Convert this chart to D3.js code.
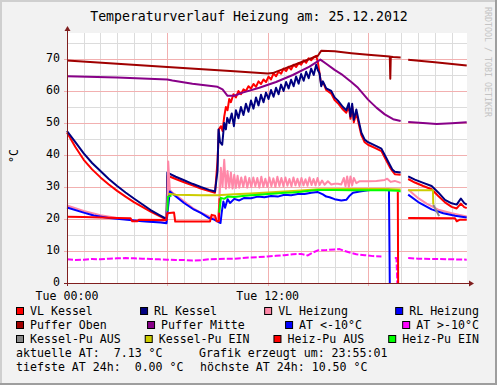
<!DOCTYPE html>
<html>
<head>
<meta charset="utf-8">
<script src="https://cdn.jsdelivr.net/npm/d3@7"></script>
<style>
  body { margin: 0; background: #fff; }
  text { font-family: "DejaVu Sans Mono", monospace; }
</style>
</head>
<body>
<script>
// hours since 00:00, value in °C  (null = gap in the data)
const vlKessel = [[0,47],[0.5,42.5],[1,38.5],[1.5,35.5],[2,33],[2.5,30.8],[3,28.8],[3.5,27],[4,25.3],[4.5,23.8],[5,22.3],[5.5,21],[5.95,19.8],[6.02,33.5],[6.5,32.5],[7,31.5],[7.5,30.5],[8,29.5],[8.5,28.7],[8.85,28.2],[9.0,38],[9.08,48],[9.2,49],[9.3,47.5],[9.4,52],[9.5,55],[9.6,54],[9.7,57.5],[9.8,56.5],[9.95,59],[10.1,58],[10.25,60],[10.4,59],[10.55,60.5],[10.7,60],[10.85,61.5],[11.0,60.8],[11.15,62.2],[11.3,61.3],[11.45,63],[11.6,62.2],[11.75,63.6],[11.9,62.8],[12.05,64.5],[12.2,63.6],[12.35,65.5],[12.5,64.6],[12.65,66],[12.8,65.4],[12.95,67],[13.1,66.2],[13.25,67.6],[13.4,66.7],[13.55,68.2],[13.7,67.5],[13.85,68.7],[14.0,68.2],[14.15,69.5],[14.3,68.8],[14.45,70.2],[14.6,69.6],[14.75,70.6],[14.9,71],[15.0,69],[15.1,65.5],[15.2,62],[15.35,62.3],[15.5,60.3],[15.8,59.2],[16.0,57.2],[16.2,56.2],[16.5,54.2],[16.7,53.2],[16.85,55.2],[16.95,51.3],[17.05,55.3],[17.15,50.2],[17.3,53.2],[17.45,49.6],[17.6,46.2],[17.8,44],[18,43.2],[18.5,42],[18.8,41.2],[19.1,38.2],[19.3,36.2],[19.45,35],[19.6,34],[19.95,33.8],null,[20.4,32.5],[20.8,31.4],[21.3,30.3],[21.8,29.3],[22.2,27.2],[22.6,25.2],[23.0,23.8],[23.3,23.3],[23.55,24.8],[23.75,23.7],[23.9,23.4]];

const rlKessel = [[0,47.5],[0.5,44],[1,40.5],[1.5,37.5],[2,35],[2.5,32.5],[3,30.3],[3.5,28.3],[4,26.4],[4.5,24.6],[5,22.8],[5.5,21.3],[5.95,20],[6.0,34.5],[6.5,33.2],[7,32.1],[7.5,31],[8,30],[8.5,29.1],[8.85,28.6],[9.0,35],[9.06,48],[9.15,44],[9.28,43.2],[9.4,50],[9.5,48],[9.58,51.6],[9.7,50],[9.85,53],[9.98,49],[10.1,54],[10.25,51.5],[10.4,55],[10.55,52.5],[10.7,56],[10.85,53.5],[11.0,57],[11.15,54.5],[11.3,58],[11.45,55.5],[11.6,58.8],[11.75,56.5],[11.9,59.5],[12.05,57.5],[12.2,60.3],[12.35,58.2],[12.5,61],[12.65,59],[12.8,62],[12.95,60],[13.1,62.8],[13.25,60.8],[13.4,63.5],[13.55,61.5],[13.7,64.5],[13.85,62.3],[14.0,65.3],[14.15,63.2],[14.3,66],[14.45,64],[14.6,67],[14.75,65],[14.9,68.2],[15.0,66.5],[15.1,65.5],[15.2,61.5],[15.3,63],[15.5,60.8],[15.8,60],[16.0,58],[16.2,57],[16.5,55],[16.7,54],[16.85,56.2],[16.95,52],[17.05,56],[17.15,51],[17.3,54.2],[17.45,50.5],[17.6,47],[17.8,44.8],[18,44],[18.5,42.8],[18.8,42],[19.1,39],[19.3,37],[19.45,35.5],[19.6,34.8],[19.95,34.5],null,[20.4,33.3],[20.8,32.3],[21.3,31.3],[21.8,30.3],[22.2,28.3],[22.6,26],[23.0,24.9],[23.3,24.5],[23.55,26.4],[23.75,25],[23.9,24.5]];

const vlHeizung = [[0,24.2],[1,22.5],[2,21.2],[3,20.3],[4,19.6],[5,19.2],[5.95,19],[6.0,25],[6.05,38],[6.15,29],[6.3,28.3],[7,25.5],[7.5,23.5],[8,22],[8.5,20.8],[9.0,20],[9.1,24],[9.2,36],[9.3,30],[9.4,38.5],[9.5,29.5],[9.6,35],[9.7,29.8],[9.8,34.5],[9.9,29.5],[10.0,33.8],[10.1,29.7],[10.2,33.5],[10.3,29.8],[10.42,33],[10.54,30],[10.66,33.3],[10.78,29.8],[10.9,32.8],[11.02,30],[11.14,33],[11.26,30.2],[11.38,32.8],[11.5,29.8],[11.62,33.2],[11.74,30],[11.86,32.6],[11.98,30],[12.1,33],[12.22,30.2],[12.34,32.7],[12.46,30],[12.58,33.2],[12.7,30.3],[12.82,32.8],[12.94,30.2],[13.06,33],[13.18,30.4],[13.3,32.5],[13.42,30.2],[13.54,33],[13.66,30.5],[13.78,32.6],[13.9,30.3],[14.02,32.8],[14.14,30.5],[14.26,32.4],[14.38,30.4],[14.5,33],[14.62,30.6],[14.74,32.5],[14.86,30.5],[14.98,32.8],[15.1,30.6],[15.25,32],[15.4,30.7],[15.6,31.8],[15.8,30.8],[16.0,31],[16.2,31],[16.4,30.8],[16.55,32.8],[16.65,30.2],[16.75,33.3],[16.85,30],[16.95,33.3],[17.05,30.5],[17.15,32.8],[17.3,31.2],[17.5,31.8],[18,31.8],[18.5,31.9],[19.0,32.2],[19.15,32.6],[19.35,31.6],[19.6,31.9],[19.95,31.3],null,[20.4,29.2],[21,26.5],[21.5,24.8],[22.2,22.9],[23,21.8],[23.9,20.8]];

const rlHeizung = [[0,23.6],[1,22],[1.6,21.1],[2.5,20.3],[3.6,19.8],[4.5,19.3],[5.6,18.9],[5.95,18.7],[6.05,24],[6.15,28.6],[6.4,27.5],[7,25],[7.6,22.9],[8,21.9],[8.5,20.3],[8.8,19.8],[9.18,18.75],[9.25,22],[9.35,25.5],[9.45,23.5],[9.6,26.2],[9.75,25],[10,26.3],[10.3,25.8],[10.6,26.6],[11,26.5],[11.4,27],[11.8,26.8],[12.2,27.2],[12.6,27],[13,27.6],[13.4,27.4],[13.8,27.8],[14.2,27.8],[14.6,28.2],[15,28.4],[15.3,27.7],[15.5,27],[15.7,26.8],[16,26.2],[16.4,25.8],[16.7,26],[16.9,27.3],[17.1,28.2],[17.5,28.6],[18,29],[18.5,29.2],[19.25,29.2],[19.3,0],null,[20.4,27.6],[21,25.3],[21.8,23],[22.5,21.8],[23.2,21],[23.9,20.5]];

const pufferOben = [[0,69.5],[3,68.5],[6,67.5],[7.4,67],[10,66.2],[12,65.5],[12.3,65.6],[13,67],[14,69],[15,71],[15.2,72.6],[16,72.4],[17,71.8],[18,71.3],[19.3,70.8],[19.33,63.8],[19.36,70.7],[19.5,70.6],[19.95,70.5],null,[20.4,69.8],[22,69],[23.9,68]];

const pufferMitte = [[0,64.6],[3,64.2],[6,63.6],[6.3,63.3],[7.5,62.3],[9,61.3],[9.3,60.5],[9.6,58.5],[10,58.5],[10.5,59.5],[11.5,61],[12.5,62.8],[13.5,65],[14.5,67.6],[15.15,69.8],[15.5,68.5],[16,66.6],[16.4,65.3],[17,62.8],[17.4,61],[18,57.3],[18.5,54.8],[19,52.7],[19.5,51.2],[19.95,50.6],null,[20.4,50.3],[21.5,49.9],[22.1,49.7],[23,49.9],[23.9,50.2]];

const atCold = [];

const atWarm = [[0,7.4],[0.5,7.2],[1,7.3],[1.5,7.5],[2,7.4],[2.5,7.6],[3,7.7],[3.5,7.8],[4,7.7],[4.5,7.6],[5,7.5],[5.5,7.4],[6,7.3],[6.5,7.2],[7,7.2],[7.5,7.0],[8,7.1],[8.5,7.4],[9,7.5],[9.5,7.6],[10,7.6],[10.5,7.8],[11,8.0],[11.5,8.1],[12,8.3],[12.5,8.5],[13,8.7],[13.5,9.0],[14,9.1],[14.4,8.6],[14.7,9.5],[15,10.2],[15.5,10.3],[16,10.5],[16.3,10.6],[16.6,10.0],[17,9.4],[17.3,9.0],[17.8,8.7],[18.3,8.4],[18.8,8.3],null,[19.6,7.8],[19.7,7.8],[19.75,0],null,[20.4,7.8],[21,7.6],[22,7.5],[23,7.4],[23.9,7.3]];

const kesselPuAus = [[21.9,24.5],[22.25,20.9]];

const kesselPuEin = [[6.05,27.9],[6.5,27.6],[8,27.4],[9,27.4],[10,27.7],[11,28],[12,28.3],[13,28.6],[14,28.9],[15,29.3],[17,29.4],[19,29.4],[19.95,29.2],null,[20.4,29],[21.88,29],[21.9,24.5]];

const heizPuAus = [[0,20.7],[1,20.6],[2,20.5],[3,20.3],[3.8,20.2],[3.9,19.3],[4.2,19.3],[4.3,19.8],[5.95,19.7],[6.0,21.8],[6.4,22],[6.47,19.2],[8.55,19.2],[8.65,21.3],[8.85,21],[8.95,19.3],[9.08,19.3],[9.12,26.5],null,[19.78,28.6],[19.8,0],null,[20.4,20.3],[23.2,20.2],[23.3,19.3],[23.5,19.8],[23.9,19.8]];

const heizPuEin = [[6.0,22.4],[6.04,27],[6.25,27.3],null,[9.1,22],[9.2,26.6],[9.4,26.3],[9.6,27],[10,26.9],[10.5,27.2],[11,27.4],[11.5,27.6],[12,27.8],[12.5,28],[13,28.2],[13.5,28.3],[14,28.5],[14.5,28.8],[15,29.1],[16,29.1],[17,29],[18,29],[19,29],[19.8,28.8],[19.95,28.6]];

const seriesNames = ["VL Kessel","RL Kessel","VL Heizung","RL Heizung","Puffer Oben","Puffer Mitte","AT <-10°C","AT >-10°C","Kessel-Pu AUS","Kessel-Pu EIN","Heiz-Pu AUS","Heiz-Pu EIN"];
const seriesColors = ["#ff0000","#000080","#ff88a8","#0000ff","#a00000","#880088","#0000ff","#ff00ff","#888888","#cccc00","#ff0000","#00ff00"];
const seriesData = [vlKessel, rlKessel, vlHeizung, rlHeizung, pufferOben, pufferMitte, atCold, atWarm, kesselPuAus, kesselPuEin, heizPuAus, heizPuEin];

const yTicks = [0, 10, 20, 30, 40, 50, 60, 70];
const xLabels = [[0, "Tue 00:00"], [12, "Tue 12:00"]];
const footer = [
  ["aktuelle AT:  7.13 °C", "Grafik erzeugt um: 23:55:01"],
  ["tiefste AT 24h:  0.00 °C", "höchste AT 24h: 10.50 °C"],
];

const width = 497, height = 385;
const plot = { left: 67, right: 467, top: 33, bottom: 283 };
const tEnd = 23 + 55 / 60;

const x = d3.scaleLinear().domain([0, tEnd]).range([plot.left, plot.right]);
const y = d3.scaleLinear().domain([0, 78.125]).range([plot.bottom, plot.top]);

const svg = d3.select("body").append("svg")
  .attr("width", width).attr("height", height);

// background + shaded frame
svg.append("rect").attr("width", width).attr("height", height).attr("fill", "#f2f2f2");
svg.append("path").attr("d", `M1,${height} V1 H${width}`).attr("fill", "none").attr("stroke", "#cfcfcf").attr("stroke-width", 2);
svg.append("path").attr("d", `M0,${height - 1} H${width - 1} V0`).attr("fill", "none").attr("stroke", "#9e9e9e").attr("stroke-width", 2);

svg.append("rect")
  .attr("x", plot.left).attr("y", plot.top)
  .attr("width", plot.right - plot.left).attr("height", plot.bottom - plot.top)
  .attr("fill", "#fff");

// grid
const grid = svg.append("g").attr("shape-rendering", "crispEdges");
const hours = d3.range(1, 24);
grid.selectAll(".vmin").data(hours.filter((h) => h % 6)).join("line")
  .attr("x1", (d) => Math.round(x(d)) + 0.5).attr("x2", (d) => Math.round(x(d)) + 0.5)
  .attr("y1", plot.top).attr("y2", plot.bottom)
  .attr("stroke", "#dcdcdc");
grid.selectAll(".hmin").data(d3.range(5, 78, 10)).join("line")
  .attr("y1", (d) => Math.round(y(d)) + 0.5).attr("y2", (d) => Math.round(y(d)) + 0.5)
  .attr("x1", plot.left).attr("x2", plot.right)
  .attr("stroke", "#dcdcdc");
grid.selectAll(".vmaj").data(hours.filter((h) => h % 6 === 0)).join("line")
  .attr("x1", (d) => Math.round(x(d)) + 0.5).attr("x2", (d) => Math.round(x(d)) + 0.5)
  .attr("y1", plot.top).attr("y2", plot.bottom + 3)
  .attr("stroke", "#f2b0b0");
grid.selectAll(".hmaj").data(yTicks.slice(1)).join("line")
  .attr("y1", (d) => Math.round(y(d)) + 0.5).attr("y2", (d) => Math.round(y(d)) + 0.5)
  .attr("x1", plot.left - 3).attr("x2", plot.right)
  .attr("stroke", "#f2b0b0");

// series, drawn in legend order like rrdtool
const line = d3.line()
  .defined((d) => d != null)
  .x((d) => x(d[0]))
  .y((d) => y(d[1]));

svg.append("g")
  .attr("fill", "none")
  .attr("stroke-width", 2)
  .attr("stroke-linejoin", "round")
  .selectAll("path")
  .data(seriesData)
  .join("path")
  .attr("stroke", (d, i) => seriesColors[i])
  .attr("stroke-dasharray", (d, i) => (i === 7 ? "6,2" : null))
  .attr("d", (d) => line(d));

// axes with arrows
const axisColor = "#801f1f";
svg.append("line")
  .attr("x1", plot.left + 0.5).attr("x2", plot.left + 0.5)
  .attr("y1", plot.bottom + 3).attr("y2", plot.top - 4)
  .attr("stroke", axisColor);
svg.append("path")
  .attr("d", `M${plot.left - 2.5},${plot.top - 2} L${plot.left + 0.5},${plot.top - 7} L${plot.left + 3.5},${plot.top - 2} Z`)
  .attr("fill", axisColor);
svg.append("line")
  .attr("x1", plot.left - 3).attr("x2", plot.right + 3)
  .attr("y1", plot.bottom + 0.5).attr("y2", plot.bottom + 0.5)
  .attr("stroke", axisColor);
svg.append("path")
  .attr("d", `M${plot.right + 2},${plot.bottom - 2.5} L${plot.right + 7},${plot.bottom + 0.5} L${plot.right + 2},${plot.bottom + 3.5} Z`)
  .attr("fill", axisColor);

// tick labels
svg.append("g")
  .selectAll("text")
  .data(yTicks)
  .join("text")
  .attr("x", 60)
  .attr("y", (d) => y(d) + 3.3)
  .attr("text-anchor", "end")
  .attr("font-size", 11.6)
  .text((d) => d);

svg.append("g")
  .selectAll("text")
  .data(xLabels)
  .join("text")
  .attr("x", (d) => x(d[0]))
  .attr("y", 299.5)
  .attr("text-anchor", "middle")
  .attr("font-size", 11.6)
  .text((d) => d[1]);

// title, unit, watermark
svg.append("text")
  .attr("x", 249).attr("y", 21)
  .attr("text-anchor", "middle")
  .attr("font-size", 13.2)
  .text("Temperaturverlauf Heizung am: 25.12.2012");

svg.append("text")
  .attr("transform", "translate(17.5,156) rotate(-90)")
  .attr("text-anchor", "middle")
  .attr("font-size", 11.6)
  .text("°C");

svg.append("text")
  .attr("transform", "translate(484.5,7) rotate(90)")
  .attr("font-size", 8.3)
  .attr("fill", "#c4c4c4")
  .text("RRDTOOL / TOBI OETIKER");

// legend, justified rows of four
const legend = svg.append("g").attr("font-size", 11.6);
const legendLeft = 16, legendRight = 479;
for (let r = 0; r < 3; r++) {
  const items = d3.range(r * 4, r * 4 + 4);
  const rowY = 315 + r * 14;
  const groups = items.map((i) => {
    const g = legend.append("g");
    g.append("rect")
      .attr("x", 0.5).attr("y", rowY - 7.5)
      .attr("width", 7).attr("height", 7)
      .attr("fill", seriesColors[i])
      .attr("stroke", "#000");
    g.append("text").attr("x", 14).attr("y", rowY).text(seriesNames[i]);
    return g;
  });
  const widths = groups.map((g) => 14 + g.select("text").node().getComputedTextLength());
  const gap = (legendRight - legendLeft - d3.sum(widths)) / (groups.length - 1);
  let pos = legendLeft;
  groups.forEach((g, k) => {
    g.attr("transform", `translate(${pos},0)`);
    pos += widths[k] + gap;
  });
}
footer.forEach((row, r) => {
  legend.append("text").attr("x", 16).attr("y", 357 + r * 14).style("white-space", "pre").text(row[0]);
  legend.append("text").attr("x", 199 + r).attr("y", 357 + r * 14).style("white-space", "pre").text(row[1]);
});
</script>
</body>
</html>
